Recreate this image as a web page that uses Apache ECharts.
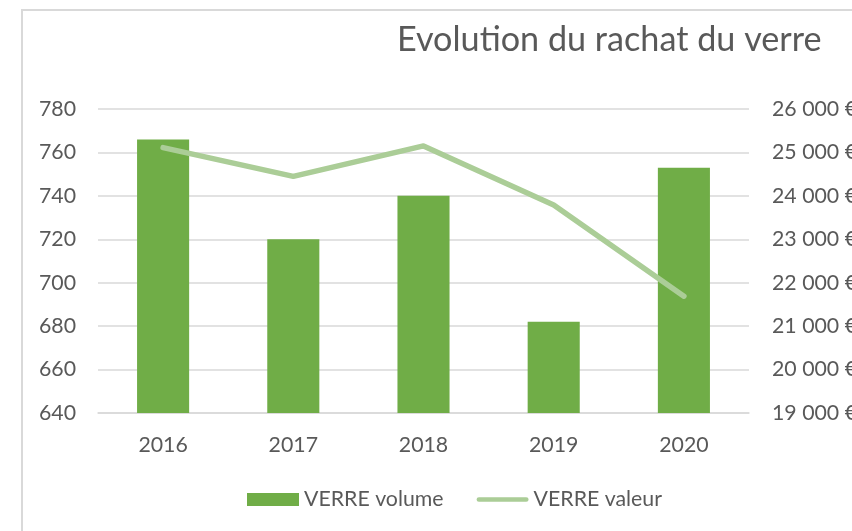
<!DOCTYPE html>
<html>
    <head>
        <meta charset="utf-8">
        <script src="https://cdn.jsdelivr.net/npm/echarts@6/dist/echarts.min.js"></script>
        <style type="text/css">
            #main {height:531px;width:852px;position:absolute;}
            body {margin:0px;padding:0px;overflow:hidden;background:#fff;}
        </style>
    </head>
    <body>
        <div id="main"></div>
        <script type="text/javascript">
            // données
            let annees = ['2016', '2017', '2018', '2019', '2020'];
            let volume = [766, 720, 740, 682, 753];
            let valeur = [25110, 24450, 25150, 23790, 21690];
            let nomVolume = 'VERRE volume';
            let nomValeur = 'VERRE valeur';

            let police = 'Lato';
            let gris = '#595959';
            let vertLigne = '#abcd97';
            let taille = 21.3;

            let myChart = echarts.init(document.getElementById('main'));

            let option = {
                animation: false,
                backgroundColor: '#ffffff',
                textStyle: {fontFamily: police},
                graphic: [{
                    type: 'rect',
                    shape: {x: 22, y: 10, width: 900, height: 600},
                    style: {fill: 'none', stroke: '#d9d9d9', lineWidth: 2}
                }],
                title: {
                    text: 'Evolution du rachat du verre',
                    left: 397,
                    top: 23,
                    padding: 0,
                    textStyle: {fontFamily: police, fontSize: 34.2, fontWeight: 'normal', color: gris}
                },
                legend: {
                    data: [
                        {name: nomVolume, icon: 'rect'},
                        {name: nomValeur, icon: 'path://M2.5,0 L52.5,0 A2.5,2.5 0 0 1 52.5,5 L2.5,5 A2.5,2.5 0 0 1 2.5,0 Z'}
                    ],
                    left: 242,
                    top: 484,
                    itemWidth: 52,
                    itemHeight: 13,
                    itemGap: 33,
                    textStyle: {fontFamily: police, fontSize: taille, color: gris}
                },
                grid: {left: 98, right: 103, top: 109, bottom: 118, outerBoundsMode: 'none'},
                xAxis: {
                    type: 'category',
                    data: annees,
                    axisLine: {show: true, lineStyle: {color: '#d9d9d9', width: 1.5}},
                    axisTick: {show: false},
                    axisLabel: {fontFamily: police, fontSize: taille, color: gris, margin: 22}
                },
                yAxis: [{
                    type: 'value',
                    min: 640,
                    max: 780,
                    interval: 20,
                    axisLine: {show: false},
                    axisTick: {show: false},
                    splitLine: {lineStyle: {color: '#d9d9d9', width: 1.5}},
                    axisLabel: {fontFamily: police, fontSize: taille, color: gris, margin: 22}
                }, {
                    type: 'value',
                    min: 19000,
                    max: 26000,
                    interval: 1000,
                    axisLine: {show: false},
                    axisTick: {show: false},
                    splitLine: {show: false},
                    axisLabel: {
                        fontFamily: police, fontSize: taille, color: gris, margin: 23,
                        formatter: function (v) {
                            return String(v).replace(/\B(?=(\d{3})+(?!\d))/g, ' ') + ' €';
                        }
                    }
                }],
                series: [{
                    name: nomVolume,
                    type: 'bar',
                    barWidth: '40%',
                    yAxisIndex: 0,
                    itemStyle: {color: '#70ad47'},
                    data: volume
                }, {
                    name: nomValeur,
                    type: 'line',
                    yAxisIndex: 1,
                    symbol: 'none',
                    lineStyle: {color: vertLigne, width: 5.5, cap: 'round', join: 'round'},
                    itemStyle: {color: vertLigne},
                    data: valeur
                }]
            };
            myChart.setOption(option);

            window.onresize = myChart.resize;
        </script>
    </body>
</html>
